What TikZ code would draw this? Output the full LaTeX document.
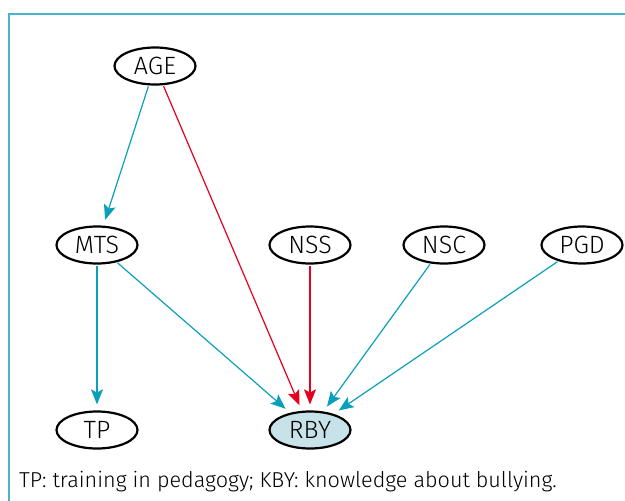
\documentclass[tikz,border=0pt]{standalone}
\usepackage{fontspec}
\setmainfont{Fira Sans}[UprightFont={* Light}]
\usetikzlibrary{shapes.geometric,arrows.meta}
\definecolor{tealc}{RGB}{10,160,188}
\definecolor{redc}{RGB}{228,0,30}
\definecolor{framec}{RGB}{70,180,205}
\definecolor{rbyfill}{RGB}{200,226,234}
\tikzset{
  var/.style={ellipse,draw=black,line width=2.2pt,minimum width=81pt,minimum height=37pt,inner sep=0pt,font=\fontsize{25}{28}\selectfont},
  tarr/.style={draw=tealc,line width=1.2pt,-{Stealth[length=15pt,width=12pt,inset=3pt]},shorten >=6pt,shorten <=1pt},
  rarr/.style={draw=redc,line width=1.2pt,-{Stealth[length=15pt,width=12pt,inset=3pt]},shorten >=6pt,shorten <=1pt},
}
\begin{document}
\begin{tikzpicture}[x=1pt,y=-1pt]
\useasboundingbox (0,0) rectangle (625,501);
\coordinate (fbl) at (9,501);
\coordinate (ftl) at (9,14);
\coordinate (ftr) at (625,14);
\draw[framec,line width=2pt] (fbl) -- (ftl) -- (ftr);
\node[var] (AGE) at (155,66) {AGE};
\node[var] (MTS) at (97,245) {MTS};
\node[var] (NSS) at (310,245) {NSS};
\node[var] (NSC) at (444,245) {NSC};
\node[var] (PGD) at (582,245) {PGD};
\node[var] (TP) at (97,430) {TP};
\node[var,fill=rbyfill] (RBY) at (310,430) {RBY};
\draw[tarr] (AGE) -- (MTS);
\draw[rarr] (AGE) -- (RBY);
\draw[tarr] (MTS) -- (TP);
\draw[tarr] (MTS) -- (RBY);
\draw[rarr] (NSS) -- (RBY);
\draw[tarr] (NSC) -- (RBY);
\draw[tarr] (PGD) -- (RBY);
\node[anchor=base west,inner sep=0pt,font=\fontsize{21.6}{24}\selectfont] (cap) at (19,487) {TP: training in pedagogy; KBY: knowledge about bullying.};
\end{tikzpicture}
\end{document}
